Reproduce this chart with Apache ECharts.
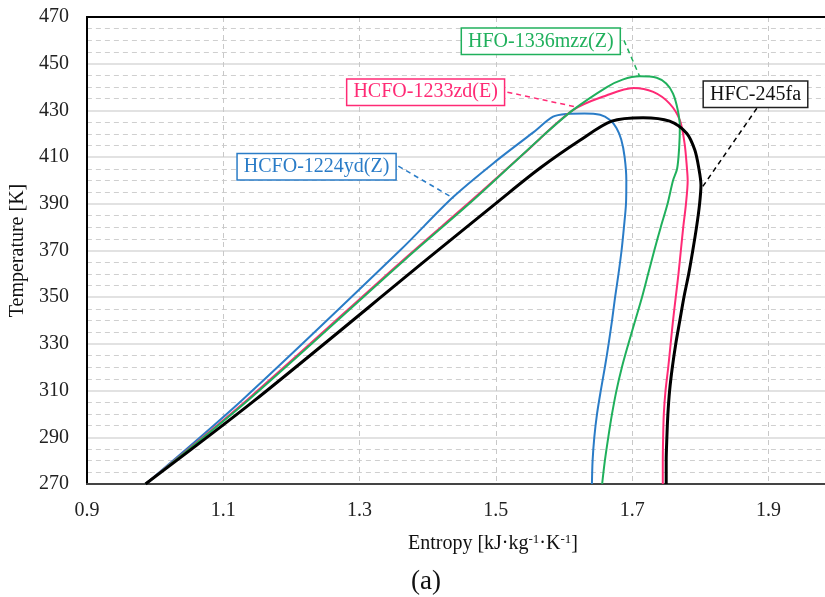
<!DOCTYPE html>
<html>
<head>
<meta charset="utf-8">
<script src="https://cdn.jsdelivr.net/npm/echarts@6/dist/echarts.min.js"></script>
<style>
  html, body { margin: 0; padding: 0; background: #fff; }
  #chart { width: 825px; height: 597px; }
</style>
</head>
<body>
<div id="chart"></div>
<script>
// Saturation domes in the T-s plane (entropy in kJ/(kg K), temperature in K)
// Each list runs up the saturated-liquid line, over the critical region and down the saturated-vapour line.
const fluidNames = ['HCFO-1224yd(Z)', 'HCFO-1233zd(E)', 'HFO-1336mzz(Z)', 'HFC-245fa'];

const entropy1224 = [0.986, 1.128, 1.360, 1.437, 1.502, 1.555, 1.584, 1.605, 1.630, 1.653, 1.667, 1.677, 1.684, 1.689, 1.6915, 1.691, 1.688, 1.6845, 1.680, 1.675, 1.6705, 1.6655, 1.660, 1.654, 1.6485, 1.6445, 1.642, 1.641];
const temp1224    = [270, 306, 370.2, 392.8, 408.7, 420.6, 427.3, 428.5, 428.7, 428.1, 426.0, 422.5, 417.5, 410, 400, 390, 380, 370, 360, 350, 340, 330, 320, 310, 300, 290, 280, 270];

const entropy1233 = [0.986, 1.135, 1.367, 1.465, 1.540, 1.613, 1.663, 1.702, 1.731, 1.755, 1.770, 1.777, 1.7805, 1.7815, 1.779, 1.775, 1.7715, 1.768, 1.764, 1.760, 1.7565, 1.753, 1.749, 1.7465, 1.7455, 1.745, 1.745];
const temp1233    = [270, 306, 366.7, 391.6, 411.2, 430.1, 436.5, 439.6, 437.9, 432.9, 425.8, 415.8, 405, 400, 390, 380, 370, 360, 350, 340, 330, 320, 310, 300, 290, 280, 270];

const entropy1336 = [0.986, 1.137, 1.369, 1.467, 1.565, 1.613, 1.663, 1.686, 1.711, 1.736, 1.750, 1.760, 1.767, 1.770, 1.769, 1.766, 1.760, 1.752, 1.742, 1.7325, 1.7235, 1.7145, 1.7045, 1.6945, 1.685, 1.677, 1.6705, 1.665, 1.660, 1.656];
const temp1336    = [270, 306, 366.7, 391.6, 418, 430.1, 440, 443.2, 444.6, 444, 441.5, 437.2, 430.1, 423, 414, 405, 400, 390, 380, 370, 360, 350, 340, 330, 320, 310, 300, 290, 280, 270];

const entropy245 = [0.986, 1.147, 1.401, 1.506, 1.565, 1.6235, 1.670, 1.716, 1.755, 1.780, 1.792, 1.798, 1.801, 1.799, 1.7945, 1.789, 1.783, 1.776, 1.770, 1.764, 1.759, 1.755, 1.7525, 1.751, 1.750, 1.750];
const temp245    = [270, 306, 366.7, 391.6, 405.3, 417.2, 425.4, 426.9, 425.4, 420.2, 413, 405, 398, 390, 380, 370, 360, 350, 340, 330, 320, 310, 300, 290, 280, 270];

// Callout boxes: label centre and leader line (from box edge to curve), in data units
const calloutCenter = [[1.237, 405.9], [1.397, 437.8], [1.566, 459.6], [1.881, 436.9]];
const leaderStart   = [[1.357, 406.1], [1.517, 437.8], [1.688, 460.0], [1.883, 430.9]];
const leaderEnd     = [[1.438, 392.4], [1.619, 431.4], [1.711, 444.6], [1.802, 396.7]];

const colors = ['#2a7cc7', '#ff2a75', '#20b05c', '#000000'];
const widths = [2, 2, 2, 3];
const entropySets = [entropy1224, entropy1233, entropy1336, entropy245];
const tempSets = [temp1224, temp1233, temp1336, temp245];

// visible entropy window ends part-way past the 1.9 tick
const xTicks = { min: 0.9, max: 1.983, interval: 0.2 };
const yTicks = { min: 270, max: 470, interval: 20 };

const serif = '"Liberation Serif", "Times New Roman", serif';

const zip = (xs, ys) => xs.map((x, i) => [x, ys[i]]);

const series = fluidNames.map((name, i) => ({
  name: name,
  type: 'line',
  data: zip(entropySets[i], tempSets[i]),
  showSymbol: false,
  smooth: 0.3,
  lineStyle: { color: colors[i], width: widths[i] },
  itemStyle: { color: colors[i] },
  silent: true,
  markLine: {
    silent: true,
    symbol: ['none', 'none'],
    label: { show: false },
    lineStyle: { color: colors[i], type: [5, 4], width: 1.5 },
    data: [[{ coord: leaderStart[i] }, { coord: leaderEnd[i] }]]
  },
  markPoint: {
    silent: true,
    symbol: 'rect',
    symbolSize: 1,
    itemStyle: { color: 'rgba(0,0,0,0)' },
    label: {
      show: true,
      position: 'inside',
      formatter: name,
      fontFamily: serif,
      fontSize: 20,
      color: i === 3 ? '#111' : colors[i],
      backgroundColor: '#fff',
      borderColor: i === 3 ? '#222' : colors[i],
      borderWidth: 1.5,
      padding: [3, 6, 2, 6]
    },
    data: [{ coord: calloutCenter[i] }]
  }
}));

const chart = echarts.init(document.getElementById('chart'), null, { renderer: 'canvas' });
chart.setOption({
  animation: false,
  backgroundColor: '#fff',
  title: {
    text: '(a)',
    left: 406,
    top: 563,
    textStyle: { fontFamily: serif, fontSize: 27, fontWeight: 'normal', color: '#111' }
  },
  grid: { left: 86, top: 17, right: 0, bottom: 113 },
  xAxis: [{
    type: 'value',
    min: xTicks.min, max: xTicks.max, interval: xTicks.interval,
    name: 'Entropy [kJ·kg{s|-1}·K{s|-1}]',
    nameLocation: 'middle',
    nameGap: 49,
    nameTextStyle: {
      fontFamily: serif, fontSize: 20, color: '#111',
      padding: [0, 0, 0, 74],
      rich: { s: { fontFamily: serif, fontSize: 13, color: '#111', padding: [0, 0, 9, 0] } }
    },
    axisLine: { show: true, lineStyle: { color: '#444', width: 2 } },
    axisTick: { show: false },
    axisLabel: {
      fontFamily: serif, fontSize: 20, color: '#222', margin: 17,
      showMaxLabel: false,
      formatter: v => v.toFixed(1)
    },
    splitLine: { show: true, lineStyle: { color: '#c8c8c8', type: [5, 4], width: 1 } }
  }, {
    // top frame line
    type: 'value',
    position: 'top',
    min: xTicks.min, max: xTicks.max,
    axisLine: { show: true, lineStyle: { color: '#000', width: 2 } },
    axisTick: { show: false },
    axisLabel: { show: false },
    splitLine: { show: false }
  }],
  yAxis: {
    type: 'value',
    min: yTicks.min, max: yTicks.max, interval: yTicks.interval,
    name: 'Temperature [K]',
    nameLocation: 'middle',
    nameRotate: 90,
    nameGap: 47,
    nameTextStyle: { fontFamily: serif, fontSize: 20, color: '#111' },
    axisLine: { show: true, lineStyle: { color: '#000', width: 2 } },
    axisTick: { show: false },
    axisLabel: { fontFamily: serif, fontSize: 20, color: '#222', margin: 18 },
    splitLine: { show: true, lineStyle: { color: '#d9d9d9', width: 1.5 } },
    minorTick: { show: false, splitNumber: 4 },
    minorSplitLine: { show: true, lineStyle: { color: '#cfcfcf', type: [5, 4], width: 1 } }
  },
  series: series
});
</script>
</body>
</html>
